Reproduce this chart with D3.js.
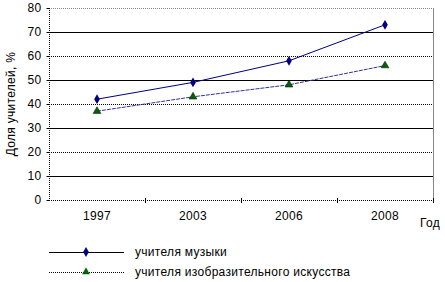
<!DOCTYPE html>
<html><head><meta charset="utf-8">
<script src="https://cdn.jsdelivr.net/npm/d3@7"></script>
<style>body{margin:0;background:#fff}svg{display:block}text{font-family:Arial,"Liberation Sans",sans-serif;letter-spacing:0.3px}</style>
</head><body><svg id="c" width="445" height="282"></svg>
<script>
const years = ["1997","2003","2006","2008"];
const music = [42,49,58,73];
const art = [37,43,48,56];
const yTicks = [0,10,20,30,40,50,60,70,80];
const seriesNames = ["учителя музыки","учителя изобразительного искусства"];

const svg = d3.select("#c");
const L=49,R=433,T=8,B=200;
const x = d3.scaleBand().domain(years).range([L,R]);
const y = d3.scaleLinear().domain([0,80]).range([B,T]);

yTicks.forEach(v=>{
  if(v===0) return;
  const solid = (v/10)%2===1;
  svg.append("line").attr("x1",L).attr("x2",R).attr("y1",Math.round(y(v))+0.5).attr("y2",Math.round(y(v))+0.5)
    .attr("stroke", v===80? "#888" : "#000").attr("stroke-width",1)
    .attr("stroke-dasharray", solid?null:"1,1");
});
svg.append("line").attr("x1",R+0.5).attr("x2",R+0.5).attr("y1",T).attr("y2",B).attr("stroke","#888");

const yAxis = svg.append("g").attr("transform",`translate(${L+0.5},0)`)
  .call(d3.axisLeft(y).tickValues(yTicks).tickSize(3).tickPadding(5));
yAxis.select(".domain").attr("stroke","#000").attr("stroke-dasharray","1,1").attr("d",`M0,${T}V${B}`);
yAxis.selectAll("text").attr("font-size","12px").attr("fill","#000");

const xAxis = svg.append("g").attr("transform",`translate(0,${B+0.5})`)
  .call(d3.axisBottom(x).tickSize(0).tickPadding(11));
xAxis.select(".domain").attr("stroke","#000").attr("stroke-dasharray","1,1").attr("d",`M${L},0H${R}`);
xAxis.selectAll("text").attr("font-size","12px").attr("fill","#000");
years.forEach((yr,i)=>{
  const bx = x(yr)+x.bandwidth();
  svg.append("line").attr("x1",bx+0.5).attr("x2",bx+0.5).attr("y1",B-2).attr("y2",B+3).attr("stroke","#000");
});

svg.append("text").attr("x",420).attr("y",227).attr("font-size","12px").text("Год");
svg.append("text").attr("transform","translate(15,104) rotate(-90)").attr("text-anchor","middle")
  .attr("font-size","12px").text("Доля учителей, %");

const cx = d=>x(d)+x.bandwidth()/2;
const line = d3.line().x((d,i)=>cx(years[i])).y(d=>y(d));
svg.append("path").datum(music).attr("d",line).attr("fill","none").attr("stroke","#000080").attr("stroke-width",1);
svg.append("path").datum(art).attr("d",line).attr("fill","none").attr("stroke","#333399").attr("stroke-width",1).attr("stroke-dasharray","4,1");

const diamond = d3.symbol().type(d3.symbolDiamond).size(28);
const tri = d3.symbol().type(d3.symbolTriangle).size(26);
music.forEach((v,i)=>svg.append("path").attr("d",diamond).attr("transform",`translate(${cx(years[i])},${y(v)})`).attr("fill","#000080"));
art.forEach((v,i)=>svg.append("path").attr("d",tri).attr("transform",`translate(${cx(years[i])},${y(v)})`).attr("fill","#006400").attr("stroke","#000").attr("stroke-width",0.5));

const lg = [{y:252,dash:null,sym:diamond,fill:"#000080"},{y:272,dash:"1,1",sym:tri,fill:"#006400"}];
lg.forEach((d,i)=>{
  svg.append("line").attr("x1",49).attr("x2",124).attr("y1",d.y+0.5).attr("y2",d.y+0.5).attr("stroke","#000").attr("stroke-dasharray",d.dash);
  svg.append("path").attr("d",d.sym).attr("transform",`translate(86,${d.y})`).attr("fill",d.fill);
  svg.append("text").attr("x",135).attr("y",d.y+4).attr("font-size","12px").text(seriesNames[i]);
});
</script></body></html>
